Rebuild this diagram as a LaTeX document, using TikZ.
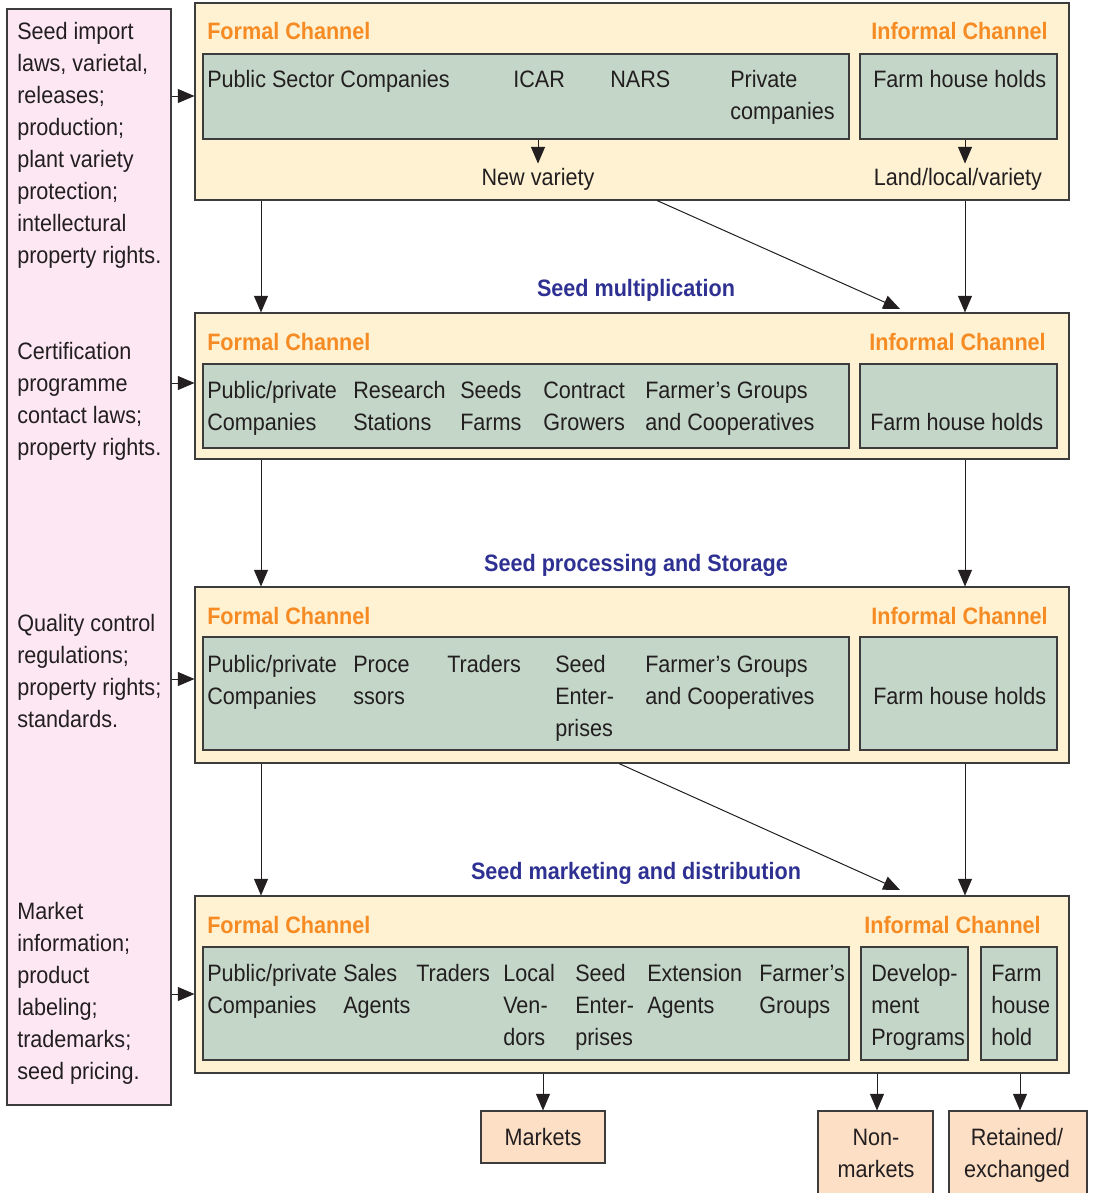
\documentclass[tikz,border=0pt]{standalone}
\usepackage{fontspec}
\setmainfont{Liberation Sans}[FakeStretch=0.91]
\usepackage{xcolor}
\usetikzlibrary{arrows.meta,fit}

\definecolor{lawpink}{RGB}{253,231,242}
\definecolor{chancream}{RGB}{255,242,210}
\definecolor{actgreen}{RGB}{195,214,200}
\definecolor{endpeach}{RGB}{253,223,197}
\definecolor{chanorange}{RGB}{246,139,36}
\definecolor{stageblue}{RGB}{46,49,146}
\definecolor{inkgray}{RGB}{35,31,32}
\definecolor{boxline}{RGB}{60,60,60}

\tikzset{
  lawbox/.style={draw=boxline, fill=lawpink, line width=0.8pt, inner sep=0pt},
  chanbox/.style={draw=boxline, fill=chancream, line width=0.8pt, inner sep=0pt},
  actbox/.style={draw=boxline, fill=actgreen, line width=0.8pt, inner sep=0pt},
  endbox/.style={draw=boxline, fill=endpeach, line width=0.8pt, inner sep=0pt},
  % multi-line texts sit on the baseline of their last line
  txt/.style={anchor=base west, inner sep=0pt, align=left, text=inkgray,
    font=\fontsize{17.8}{24}\selectfont},
  ctxt/.style={txt, anchor=base, align=center},
  outcome/.style={ctxt, inner sep=3pt},
  formal/.style={anchor=base west, inner sep=0pt, text=chanorange,
    font=\fontsize{17.8}{24}\selectfont\bfseries},
  informal/.style={formal, anchor=base east},
  stage/.style={anchor=base, inner sep=0pt, text=stageblue,
    font=\fontsize{17.8}{24}\selectfont\bfseries},
  arr/.style={draw=inkgray, line width=0.75pt, -{Triangle[length=12.5pt,width=10.5pt]}}
}

\begin{document}
\begin{tikzpicture}[x=0.75pt, y=-0.75pt]
\useasboundingbox (0,0) rectangle (1095,1193);

% rules and regulations column
\node[lawbox, fit={(7,9) (171,1105)}] (law) {};
\node[txt] (lawa) at (17,263) {Seed import\\laws, varietal,\\releases;\\production;\\plant variety\\protection;\\intellectural\\property rights.};
\node[txt] (lawb) at (17,455) {Certification\\programme\\contact laws;\\property rights.};
\node[txt] (lawc) at (17,727) {Quality control\\regulations;\\property rights;\\standards.};
\node[txt] (lawd) at (17,1079) {Market\\information;\\product\\labeling;\\trademarks;\\seed pricing.};

\coordinate (colL) at (261,0);
\coordinate (colR) at (965,0);

% variety development
\node[chanbox, fit={(195,3) (1069,200)}] (dev) {};
\node[formal] (devf) at (207,39) {Formal Channel};
\node[informal] (devi) at (1048,39) {Informal Channel};
\node[actbox, fit={(203,54) (849,139)}] (devfa) {};
\node[actbox, fit={(860,54) (1057,139)}] (devia) {};
\node[txt] (dev1) at (207,87) {Public Sector Companies};
\node[txt] (dev2) at (513,87) {ICAR};
\node[txt] (dev3) at (610,87) {NARS};
\node[txt] (dev4) at (730,119) {Private\\companies};
\node[txt] (dev5) at (873,87) {Farm house holds};
\node[outcome] (newvar) at (538,185) {New variety};
\node[outcome] (landvar) at (958,185) {Land/local/variety};
\draw[arr] (devfa.south -| newvar) -- (newvar.north);
\draw[arr] (devia.south -| colR) -- (landvar.north -| colR);

% seed multiplication
\node[stage] (mult) at (636,296) {Seed multiplication};
\node[chanbox, fit={(195,313) (1069,459)}] (mul) {};
\node[formal] (mulf) at (207,350) {Formal Channel};
\node[informal] (muli) at (1046,350) {Informal Channel};
\node[actbox, fit={(203,364) (849,448)}] (mulfa) {};
\node[actbox, fit={(860,364) (1057,448)}] (mulia) {};
\node[txt] (mul1) at (207,430) {Public/private\\Companies};
\node[txt] (mul2) at (353,430) {Research\\Stations};
\node[txt] (mul3) at (460,430) {Seeds\\Farms};
\node[txt] (mul4) at (543,430) {Contract\\Growers};
\node[txt] (mul5) at (645,430) {Farmer’s Groups\\and Cooperatives};
\node[txt] (mul6) at (870,430) {Farm house holds};
\coordinate (diagA) at (900,309);
\draw[arr] (dev.south -| colL) -- (mul.north -| colL);
\draw[arr] (dev.south -| colR) -- (mul.north -| colR);
\draw[arr] (dev.south -| 657,0) -- (diagA);

% processing and storage
\node[stage] (proc) at (636,571) {Seed processing and Storage};
\node[chanbox, fit={(195,587) (1069,763)}] (pro) {};
\node[formal] (prof) at (207,624) {Formal Channel};
\node[informal] (proi) at (1048,624) {Informal Channel};
\node[actbox, fit={(203,637) (849,750)}] (profa) {};
\node[actbox, fit={(860,637) (1057,750)}] (proia) {};
\node[txt] (pro1) at (207,704) {Public/private\\Companies};
\node[txt] (pro2) at (353,704) {Proce\\ssors};
\node[txt] (pro3) at (447,672) {Traders};
\node[txt] (pro4) at (555,736) {Seed\\Enter-\\prises};
\node[txt] (pro5) at (645,704) {Farmer’s Groups\\and Cooperatives};
\node[txt] (pro6) at (873,704) {Farm house holds};
\draw[arr] (mul.south -| colL) -- (pro.north -| colL);
\draw[arr] (mul.south -| colR) -- (pro.north -| colR);

% marketing and distribution
\node[stage] (mark) at (636,879) {Seed marketing and distribution};
\node[chanbox, fit={(195,896) (1069,1073)}] (mkt) {};
\node[formal] (mktf) at (207,933) {Formal Channel};
\node[informal] (mkti) at (1041,933) {Informal Channel};
\node[actbox, fit={(203,947) (849,1060)}] (mktfa) {};
\node[actbox, fit={(861,947) (968,1060)}] (mktia) {};
\node[actbox, fit={(981,947) (1057,1060)}] (mktib) {};
\node[txt] (mkt1) at (207,1013) {Public/private\\Companies};
\node[txt] (mkt2) at (343,1013) {Sales\\Agents};
\node[txt] (mkt3) at (416,981) {Traders};
\node[txt] (mkt4) at (503,1045) {Local\\Ven-\\dors};
\node[txt] (mkt5) at (575,1045) {Seed\\Enter-\\prises};
\node[txt] (mkt6) at (647,1013) {Extension\\Agents};
\node[txt] (mkt7) at (759,1013) {Farmer’s\\Groups};
\node[txt] (mkt8) at (871,1045) {Develop-\\ment\\Programs};
\node[txt] (mkt9) at (991,1045) {Farm\\house\\hold};
\coordinate (diagB) at (900,890);
\draw[arr] (pro.south -| colL) -- (mkt.north -| colL);
\draw[arr] (pro.south -| colR) -- (mkt.north -| colR);
\draw[arr] (pro.south -| 619,0) -- (diagB);

% end uses
\node[endbox, fit={(481,1111) (605,1163)}] (markets) {};
\node[endbox, fit={(818,1111) (933,1200)}] (nonmk) {};
\node[endbox, fit={(949,1111) (1087,1200)}] (retain) {};
\node[ctxt] (markt) at (543,1145) {Markets};
\node[ctxt] (nonmkt) at (876,1177) {Non-\\markets};
\node[ctxt] (retaint) at (1017,1177) {Retained/\\exchanged};
\draw[arr] (mkt.south -| markets.north) -- (markets.north);
\draw[arr] (mkt.south -| 877,0) -- (nonmk.north -| 877,0);
\draw[arr] (mkt.south -| 1020,0) -- (retain.north -| 1020,0);

% regulations into each stage
\draw[arr] (law.east |- 0,96) -- (dev.west |- 0,96);
\draw[arr] (law.east |- 0,383) -- (mul.west |- 0,383);
\draw[arr] (law.east |- 0,679) -- (pro.west |- 0,679);
\draw[arr] (law.east |- 0,994) -- (mkt.west |- 0,994);
\end{tikzpicture}
\end{document}
